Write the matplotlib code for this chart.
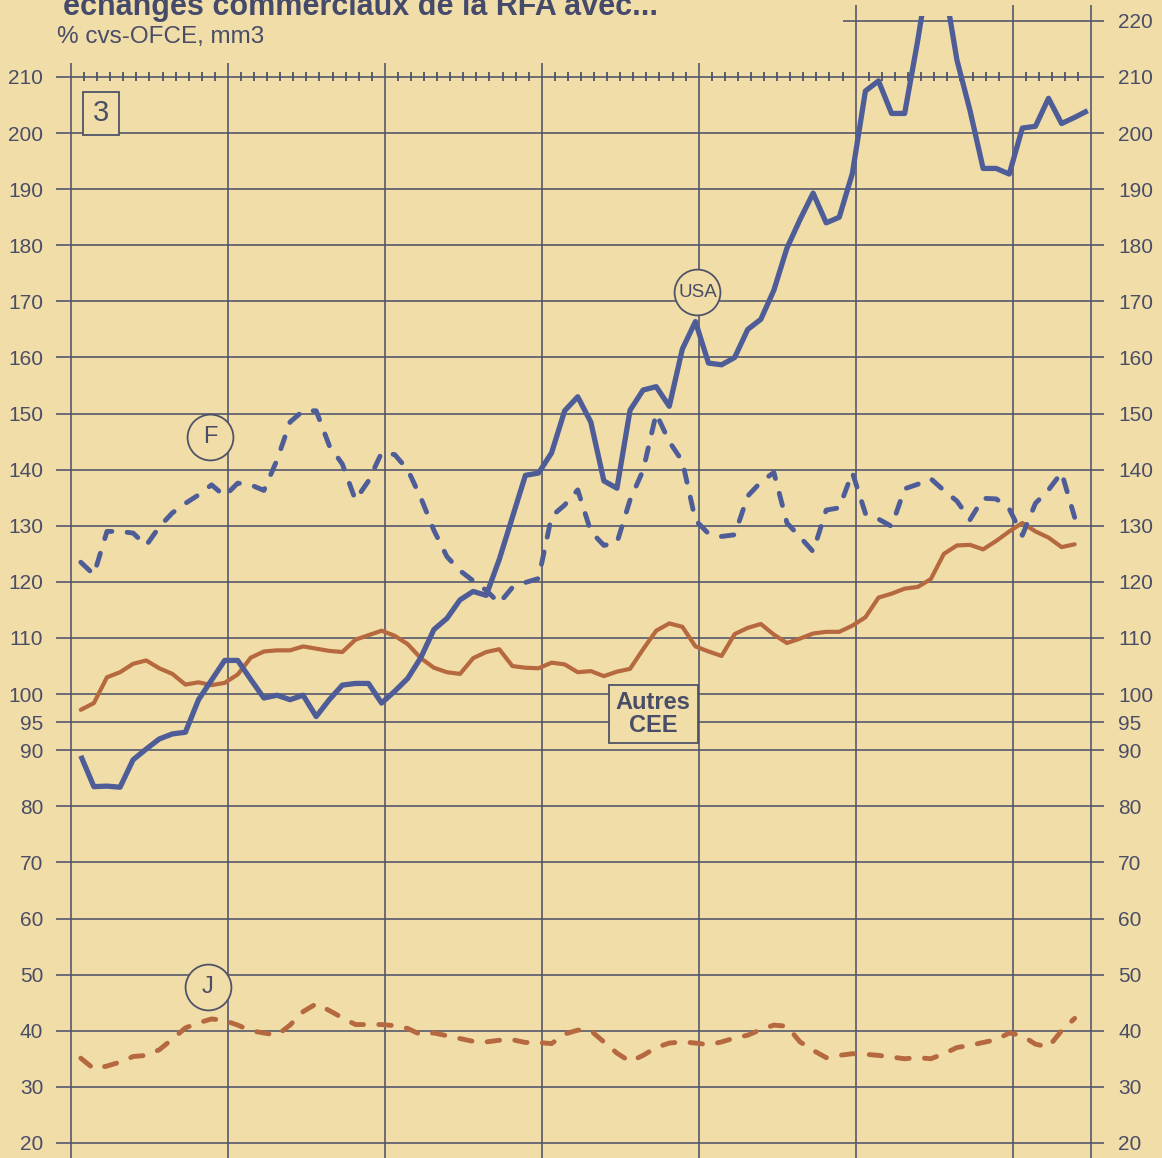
import numpy as np
import matplotlib
matplotlib.use("Agg")
import matplotlib.pyplot as plt
from matplotlib.patches import Rectangle
from matplotlib import font_manager

plt.rcParams['lines.scale_dashes'] = False
plt.rcParams['font.family'] = ['Liberation Sans', 'DejaVu Sans']

# ---------------- data ----------------
title = "échanges commerciaux de la RFA avec..."
subtitle = "% cvs-OFCE, mm3"

usa = [89.0, 83.5, 83.6, 83.4, 88.3, 90.2, 92.0, 92.9, 93.2, 99.0,
       102.5, 106.0, 106.0, 102.6, 99.3, 99.8, 99.0, 99.8, 96.0, 99.0,
       101.6, 101.9, 101.9, 98.4, 100.5, 102.8, 106.5, 111.5, 113.5, 116.8,
       118.3, 117.6, 124.0, 131.5, 139.0, 139.4, 143.0, 150.5, 153.0, 148.5,
       138.0, 136.7, 150.6, 154.2, 154.8, 151.3, 161.5, 166.4, 159.0, 158.7,
       160.0, 165.0, 166.8, 172.0, 179.5, 184.6, 189.3, 184.0, 185.0, 192.8,
       207.5, 209.3, 203.5, 203.5, 216.5, 231.0, 227.0, 213.0, 204.0, 193.7,
       193.7, 192.7, 200.9, 201.2, 206.2, 201.7, 202.8, 204.0]

france = [123.5, 121.3, 129.0, 129.0, 128.7, 126.5, 129.8, 132.3, 134.0, 135.5,
          137.3, 135.3, 137.6, 137.3, 136.3, 141.7, 148.5, 150.5, 150.5, 144.3,
          141.0, 134.6, 138.0, 143.0, 142.7, 140.0, 135.0, 129.2, 124.5, 122.0,
          120.2, 118.5, 116.2, 119.0, 119.9, 120.6, 131.7, 133.7, 136.4, 129.0,
          126.5, 127.0, 134.6, 139.9, 150.0, 145.0, 141.5, 131.0, 128.6, 128.1,
          128.4, 135.3, 137.8, 139.5, 130.5, 128.0, 125.4, 132.8, 133.2, 139.5,
          132.2, 131.2, 129.9, 136.6, 137.4, 138.4, 136.3, 134.4, 131.1, 134.9,
          134.8, 133.0, 128.3, 134.0, 136.4, 139.5, 131.5]

autres_cee = [97.2, 98.4, 103.0, 103.9, 105.4, 106.0, 104.6, 103.6, 101.7, 102.1,
              101.6, 102.0, 103.5, 106.5, 107.6, 107.8, 107.8, 108.5, 108.1, 107.7,
              107.5, 109.7, 110.5, 111.3, 110.4, 108.9, 106.4, 104.7, 103.9, 103.6,
              106.4, 107.5, 108.0, 105.0, 104.7, 104.6, 105.6, 105.3, 103.9, 104.1,
              103.2, 104.0, 104.5, 108.0, 111.3, 112.6, 112.0, 108.5, 107.6, 106.8,
              110.7, 111.8, 112.5, 110.6, 109.1, 109.9, 110.8, 111.1, 111.1, 112.2,
              113.7, 117.2, 117.9, 118.8, 119.1, 120.5, 125.0, 126.5, 126.6, 125.8,
              127.3, 129.0, 130.5, 129.0, 127.9, 126.2, 126.7]

japon = [35.1, 33.2, 33.7, 34.4, 35.4, 35.6, 36.6, 38.5, 40.5, 41.4,
         42.1, 41.8, 41.0, 40.0, 39.6, 39.2, 41.0, 43.4, 44.8, 43.6,
         42.3, 41.1, 41.1, 41.1, 40.9, 40.4, 39.3, 39.6, 39.1, 38.6,
         38.1, 38.0, 38.3, 38.4, 37.9, 37.9, 37.7, 39.4, 40.1, 40.0,
         38.0, 36.0, 34.5, 35.6, 37.0, 37.8, 38.0, 37.8, 37.5, 38.0,
         38.7, 39.2, 40.2, 41.0, 40.8, 38.0, 36.5, 35.2, 35.6, 35.9,
         35.8, 35.6, 35.3, 35.0, 35.2, 35.0, 35.9, 37.0, 37.4, 37.9,
         38.4, 39.6, 39.1, 37.6, 37.1, 40.0, 42.2]

left_ticks = [20, 30, 40, 50, 60, 70, 80, 90, 95, 100, 110, 120, 130, 140,
              150, 160, 170, 180, 190, 200, 210]
right_ticks = left_ticks + [220]
year_bounds = [0, 12, 24, 36, 48, 60, 72, 78]
n_months = 78

# ---------------- style ----------------
bg = '#f0dda8'
grid_c = '#4f5368'
text_c = '#4a4d66'
title_c = '#454a6b'
blue = '#4e5d97'
orange = '#b6683e'

installed = {f.name for f in font_manager.fontManager.ttflist}
narrow = [f for f in ['Liberation Sans Narrow', 'DejaVu Sans Condensed'] if f in installed]

W, H = 1162, 1158
fig = plt.figure(figsize=(W / 100, H / 100), dpi=100)
fig.patch.set_facecolor(bg)

ax = fig.add_axes([71 / W, 0, 1020 / W, (H - 16) / H])
ax.set_facecolor(bg)
ax.set_xlim(0, n_months)
ax.set_ylim(17.31, 220.87)
for s in ax.spines.values():
    s.set_visible(False)
ax.set_xticks([])
ax.set_yticks(left_ticks)
ax.set_yticklabels([str(t) for t in left_ticks])
ax.tick_params(axis='y', length=0, pad=20, labelsize=15, labelcolor=text_c)

ax2 = ax.twinx()
ax2.set_ylim(ax.get_ylim())
for s in ax2.spines.values():
    s.set_visible(False)
ax2.set_yticks(right_ticks)
ax2.set_yticklabels([str(t) for t in right_ticks])
ax2.tick_params(axis='y', length=0, pad=19.5, labelsize=15, labelcolor=text_c)
ax2.patch.set_visible(False)

# grid
glw = 1.15
ax.hlines(left_ticks, -1.15, n_months + 1.0, colors=grid_c, lw=glw, clip_on=False, zorder=1)
ax.hlines([220], 59, n_months + 1.0, colors=grid_c, lw=glw, clip_on=False, zorder=1)
for xb in year_bounds:
    top = 222.8 if xb >= 60 else 212.5
    ax.vlines(xb, 17.31, top, colors=grid_c, lw=glw, clip_on=False, zorder=1)
minor = [m for m in range(1, n_months) if m % 12 != 0]
ax.vlines(minor, 209.2, 210.8, colors=grid_c, lw=1.3, zorder=1)

# series
off = 0.75
def xs(v):
    return np.arange(len(v)) + off

ax.plot(xs(autres_cee), autres_cee, color=orange, lw=3.0, solid_joinstyle='round',
        solid_capstyle='round', zorder=3)
ax.plot(xs(japon), japon, color=orange, lw=3.5, dashes=(9, 11),
        dash_capstyle='round', zorder=3)
ax.plot(xs(france), france, color=blue, lw=3.5, dashes=(9, 11),
        dash_capstyle='round', zorder=3)
ax.plot(xs(usa), usa, color=blue, lw=3.8, solid_joinstyle='round',
        solid_capstyle='butt', zorder=3)

# labels
usa_fam = narrow + ['Liberation Sans'] if narrow else ['Liberation Sans']
usa_fs = 15 if narrow else 13.5
for (cx, cy, lab, fam, fs) in [(10.63, 145.83, 'F', ['Liberation Sans'], 17),
                              (10.47, 47.8, 'J', ['Liberation Sans'], 17),
                              (47.9, 171.6, 'USA', usa_fam, usa_fs)]:
    ax.plot([cx], [cy], marker='o', ms=33, mfc=bg, mec=grid_c, mew=1.3, zorder=4, clip_on=False)
    ax.text(cx, cy, lab, ha='center', va='center', fontsize=fs, color=text_c,
            family=fam, zorder=5)

ax.add_patch(Rectangle((0.92, 199.66), 2.75, 7.66, fc=bg, ec=grid_c, lw=1.3, zorder=4))
ax.text(2.29, 203.5, '3', ha='center', va='center', fontsize=21, color=text_c, zorder=5)

ax.add_patch(Rectangle((41.13, 91.28), 6.81, 10.34, fc=bg, ec=grid_c, lw=1.3, zorder=4))
ax.text(44.53, 96.45, 'Autres\nCEE', ha='center', va='center', fontsize=17,
        fontweight='bold', color=text_c, linespacing=1.0, zorder=5)

fig.text(63 / W, 1 - 15 / H, title, fontsize=22, fontweight='bold', color=title_c,
         va='baseline', ha='left')
fig.text(57 / W, 1 - 43 / H, subtitle, fontsize=17.5, color=text_c,
         va='baseline', ha='left')

fig.savefig('out.png', dpi=100, facecolor=bg)
